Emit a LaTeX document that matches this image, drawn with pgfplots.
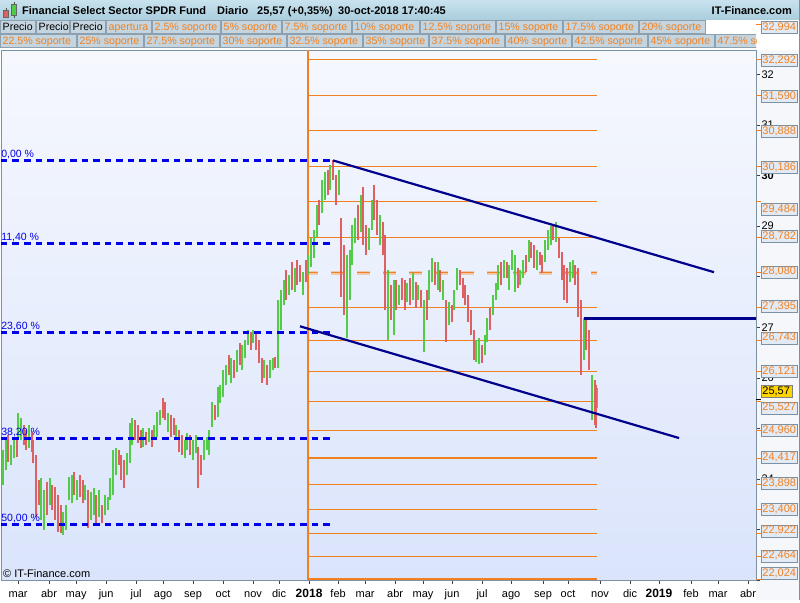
\documentclass[border=0pt]{standalone}
\usepackage{fontspec}
\setmainfont{Liberation Sans}
\usepackage{pgfplots}
\pgfplotsset{compat=1.18}
\usepackage{pgfplotstable}

\definecolor{upgreen}{RGB}{82,204,70}
\definecolor{dnred}{RGB}{222,96,96}
\definecolor{lvlorange}{RGB}{242,128,32}
\definecolor{fibblue}{RGB}{0,0,235}
\definecolor{trendnavy}{RGB}{0,0,140}
\definecolor{frame}{RGB}{125,145,165}
\definecolor{cellfill}{RGB}{196,213,223}
\definecolor{celldraw}{RGB}{140,160,176}
\definecolor{hdrtop}{RGB}{200,226,238}
\definecolor{hdrbot}{RGB}{170,205,221}
\definecolor{plottop}{RGB}{246,248,254}
\definecolor{plotbot}{RGB}{218,228,251}
\definecolor{boxfill}{RGB}{226,235,245}
\definecolor{rightbg}{RGB}{245,247,250}
\definecolor{goldbox}{RGB}{255,212,0}

% daily bars (every second session)
\pgfplotstableread{
d lo hi
-11 23.88 24.57
-9 24.17 24.77
-5 24.27 24.67
-3 24.41 24.77
0 24.83 25.30
2 24.77 25.20
8 24.61 25.06
17 23.19 24.02
19 22.99 23.78
23 23.48 24.02
33 22.89 23.34
35 22.99 23.48
37 23.58 24.04
39 23.52 24.08
43 23.58 23.98
49 23.58 23.88
53 23.19 23.74
55 23.28 23.82
59 23.25 23.78
63 23.28 23.68
65 23.38 23.64
67 23.58 24.02
69 23.68 24.57
71 24.08 24.61
79 24.08 24.51
81 24.31 25.10
83 24.67 25.20
91 24.63 25.00
95 24.73 25.00
99 24.77 25.06
101 24.83 25.32
103 25.06 25.36
109 24.93 25.30
115 24.77 25.06
121 24.41 24.77
123 24.57 24.91
127 24.37 24.77
129 24.51 24.87
135 24.37 24.77
137 24.57 24.83
139 24.47 24.97
141 25.02 25.52
145 25.22 25.82
147 25.50 25.86
149 25.62 26.15
151 25.86 26.25
155 25.89 26.39
159 26.11 26.55
163 26.15 26.65
165 26.39 26.75
167 26.65 26.94
171 26.69 26.94
179 25.99 26.35
183 25.99 26.35
185 26.15 26.39
189 26.19 27.54
191 26.94 27.73
193 27.44 27.93
197 27.63 28.03
201 27.69 28.17
207 27.63 28.09
211 28.03 28.43
213 28.19 28.76
215 28.37 28.92
217 28.78 29.41
221 29.26 29.91
223 29.51 30.07
227 29.71 30.21
233 29.61 30.11
239 26.78 28.43
241 27.54 28.52
243 28.23 29.02
245 28.66 29.16
249 28.88 29.61
255 28.52 28.96
257 28.92 29.51
263 28.62 29.22
269 26.75 28.13
273 26.84 27.93
277 27.44 27.83
283 27.50 27.87
287 27.54 28.07
291 27.54 27.83
295 26.51 27.54
299 27.54 28.13
301 27.89 28.37
305 27.73 28.29
309 27.54 27.93
313 27.04 27.50
317 27.34 27.73
319 27.73 28.17
333 26.31 26.75
335 26.27 26.78
339 26.45 26.84
341 26.71 27.18
345 27.24 27.63
347 27.54 27.87
349 27.73 28.23
353 27.97 28.33
357 27.73 28.23
359 28.13 28.52
361 27.69 28.43
365 27.83 28.13
367 27.97 28.33
371 28.29 28.72
377 28.13 28.52
383 28.29 28.72
385 28.52 28.92
387 28.62 29.00
391 28.68 29.08
401 27.89 28.29
403 27.97 28.33
411 26.35 27.18
417 25.16 26.05
421 25.40 25.80
}\upbars

\pgfplotstableread{
d lo hi
-7 24.33 24.87
-1 24.43 24.77
4 24.67 25.06
6 24.57 24.97
10 24.53 24.93
11 24.31 24.77
13 23.25 24.47
15 23.48 23.98
21 23.28 23.94
25 23.38 23.88
27 23.19 23.84
29 22.95 23.68
31 22.93 23.48
41 23.68 24.13
45 23.64 24.08
47 23.52 23.98
51 23.03 23.78
57 23.13 23.68
61 23.13 23.48
73 24.27 24.57
75 23.98 24.47
77 23.82 24.37
85 24.77 25.16
87 24.71 25.06
89 24.61 24.97
93 24.67 24.93
97 24.63 24.97
105 25.20 25.60
107 25.16 25.52
111 24.83 25.26
113 24.87 25.20
117 24.53 24.97
119 24.47 24.87
125 24.47 24.87
131 23.82 24.63
133 24.08 24.47
143 25.16 25.46
153 26.05 26.45
157 25.99 26.35
161 26.25 26.69
169 26.55 26.90
173 26.55 26.88
175 26.29 26.75
177 25.89 26.39
181 25.86 26.25
187 26.19 26.41
195 27.54 28.13
199 27.73 28.29
203 27.83 28.33
205 27.89 28.23
209 27.89 28.33
219 29.02 29.51
225 29.61 30.11
229 29.91 30.30
231 29.41 30.01
235 27.60 29.16
237 27.24 28.62
247 28.72 29.41
251 28.62 29.77
253 28.43 29.02
259 29.12 29.81
261 28.82 29.51
265 28.43 29.08
267 27.34 28.82
271 27.14 27.83
275 27.34 27.93
279 27.54 27.97
281 27.34 27.93
285 27.44 27.97
289 27.38 27.89
293 27.40 27.73
297 27.14 27.73
303 27.83 28.29
307 27.69 28.13
311 26.71 27.54
315 27.10 27.44
321 27.83 28.13
323 27.58 27.97
325 27.44 27.83
327 27.10 27.63
329 26.84 27.34
331 26.35 26.94
337 26.29 26.65
343 26.94 27.38
351 27.83 28.29
355 27.97 28.29
363 27.77 28.17
369 28.09 28.43
373 28.37 28.68
375 28.17 28.62
379 28.23 28.49
381 28.07 28.43
389 28.72 29.02
393 28.37 28.76
395 27.93 28.49
397 27.54 28.23
399 27.48 28.17
405 27.83 28.23
407 27.20 28.17
409 26.05 27.54
413 26.55 27.14
415 26.15 26.94
419 25.06 25.95
420 25.00 25.86
}\downbars

\newcommand{\cell}[6]{%
  \draw[celldraw, fill=cellfill] (#1,#3) rectangle (#2,#4);
  \node[anchor=base west, inner sep=0pt, text=#5, font=\fontsize{10.6}{13}\selectfont] at ({#1+2.5},{#4-3}) {#6};}

\begin{document}
\begin{tikzpicture}
\begin{scope}[x=1pt,y=-1pt]
  \useasboundingbox (0,0) rectangle (800,600);
  \fill[white] (0,0) rectangle (800,600);
  \fill[rightbg] (756,50) rectangle (800,600);
  \shade[top color=hdrtop, bottom color=hdrbot] (0,0) rectangle (800,19.5);
  % icon
  \draw[black!70, line width=0.6pt] (5.8,8) -- (5.8,18.3) (14.2,1.7) -- (14.2,18.3);
  \filldraw[draw=black!60, fill=dnred, line width=0.5pt] (3.3,10) rectangle (8.3,16.7);
  \filldraw[draw=black!60, fill=upgreen, line width=0.5pt] (11.7,4) rectangle (16.7,15);
  \begin{scope}[every node/.style={anchor=base west, inner sep=0pt, font=\bfseries\fontsize{11}{13}\selectfont}]
    \node at (22,14.5) {Financial Select Sector SPDR Fund};
    \node at (217,14.5) {Diario};
    \node at (257,14.5) {25,57 (+0,35\%)};
    \node at (338,14.5) {30-oct-2018 17:40:45};
    \node[anchor=base east] at (792,14.5) {IT-Finance.com};
  \end{scope}
  % legend cells, row 1
  \cell{0}{35}{20.5}{33.5}{black}{Precio}
  \cell{36}{69}{20.5}{33.5}{black}{Precio}
  \cell{70}{105}{20.5}{33.5}{black}{Precio}
  \cell{106}{151}{20.5}{33.5}{lvlorange}{apertura}
  \cell{152}{220}{20.5}{33.5}{lvlorange}{2.5\% soporte}
  \cell{221}{281}{20.5}{33.5}{lvlorange}{5\% soporte}
  \cell{282}{351}{20.5}{33.5}{lvlorange}{7.5\% soporte}
  \cell{352}{419}{20.5}{33.5}{lvlorange}{10\% soporte}
  \cell{420}{495}{20.5}{33.5}{lvlorange}{12.5\% soporte}
  \cell{496}{562}{20.5}{33.5}{lvlorange}{15\% soporte}
  \cell{563}{638}{20.5}{33.5}{lvlorange}{17.5\% soporte}
  \cell{639}{705}{20.5}{33.5}{lvlorange}{20\% soporte}
  % row 2
  \cell{0}{76}{34.5}{47.5}{lvlorange}{22.5\% soporte}
  \cell{77}{143}{34.5}{47.5}{lvlorange}{25\% soporte}
  \cell{144}{219}{34.5}{47.5}{lvlorange}{27.5\% soporte}
  \cell{220}{286}{34.5}{47.5}{lvlorange}{30\% soporte}
  \cell{287}{362}{34.5}{47.5}{lvlorange}{32.5\% soporte}
  \cell{363}{428}{34.5}{47.5}{lvlorange}{35\% soporte}
  \cell{429}{504}{34.5}{47.5}{lvlorange}{37.5\% soporte}
  \cell{505}{571}{34.5}{47.5}{lvlorange}{40\% soporte}
  \cell{572}{647}{34.5}{47.5}{lvlorange}{42.5\% soporte}
  \cell{648}{714}{34.5}{47.5}{lvlorange}{45\% soporte}
  \begin{scope}
    \clip (714,30) rectangle (756,50);
    \cell{715}{790}{34.5}{47.5}{lvlorange}{47.5\% soporte}
  \end{scope}
\end{scope}

\begin{axis}[
  at={(1pt,-580pt)}, anchor=south west,
  width=755pt, height=530pt, scale only axis,
  xmin=-12.4, xmax=536.3, ymin=21.999, ymax=32.48,
  axis background/.style={top color=plottop, bottom color=plotbot},
  axis line style={draw=frame},
  xtick={0,22.5,42.2,64,85.8,105.4,127.2,149,170.8,189.7,211.5,232.6,252.2,274,294.3,315.4,337.2,358.3,381.5,399.7,423,444.8,465.8,489.1,508.7,530.5},
  xticklabels={mar,abr,may,jun,jul,ago,sep,oct,nov,dic,{\bfseries\fontsize{12}{13}\selectfont 2018},feb,mar,abr,may,jun,jul,ago,sep,oct,nov,dic,{\bfseries\fontsize{12}{13}\selectfont 2019},feb,mar,abr},
  xtick pos=bottom,
  ytick={22,23,...,32},
  yticklabels={,,24,,26,27,,29,\textbf{30},31,32},
  ytick pos=right, yticklabel pos=right,
  tick align=outside, major tick length=4pt,
  tick style={draw=black!75, line width=0.6pt},
  tick label style={font=\fontsize{11}{13}\selectfont, text=black},
  xticklabel style={anchor=base, yshift=-13pt},
  yticklabel style={anchor=west, xshift=-2pt},
]
% support / resistance levels from the 2018 open
\pgfplotsinvokeforeach{32.292,31.590,30.888,30.186,29.484,28.782,27.395,26.743,26.121,25.527,24.960,24.417,23.898,23.400,22.922,22.464,22.024}{
  \addplot[lvlorange, line width=1.2pt] coordinates {(210.8,#1) (421,#1)};
}
\addplot[lvlorange!70, opacity=0.5, line width=4pt, dash pattern=on 13pt off 13pt, dash phase=3pt] coordinates {(210.8,28.080) (421,28.080)};
\addplot[lvlorange, line width=1.5pt, dash pattern=on 13pt off 13pt, dash phase=3pt] coordinates {(210.8,28.080) (421,28.080)};
\addplot[lvlorange, line width=2.6pt] coordinates {(210.8,21.999) (210.8,32.48)};

% price bars
\addplot[draw=none, mark=none, error bars/.cd, y dir=plus, y explicit, error mark=none,
  error bar style={draw=upgreen, line width=2pt}]
  table[x=d, y=lo, y error expr=\thisrow{hi}-\thisrow{lo}] {\upbars};
\addplot[draw=none, mark=none, error bars/.cd, y dir=plus, y explicit, error mark=none,
  error bar style={draw=dnred, line width=2pt}]
  table[x=d, y=lo, y error expr=\thisrow{hi}-\thisrow{lo}] {\downbars};

% fibonacci retracements
\pgfplotsinvokeforeach{30.30,28.658,26.902,24.799,23.10}{
  \addplot[fibblue, line width=2.6pt, dash pattern=on 6.5pt off 5pt] coordinates {(-12.4,#1) (229,#1)};
}
\begin{scope}[every node/.style={anchor=base west, inner sep=0pt, text=fibblue, font=\fontsize{10.5}{11}\selectfont, yshift=3pt}]
  \node at (axis cs:-12.3,30.30) {0,00 \%};
  \node at (axis cs:-12.3,28.658) {11,40 \%};
  \node at (axis cs:-12.3,26.902) {23,60 \%};
  \node at (axis cs:-12.3,24.799) {38,20 \%};
  \node at (axis cs:-12.3,23.10) {50,00 \%};
\end{scope}

% channel
\addplot[trendnavy, line width=2.2pt] coordinates {(228.9,30.30) (505.8,28.09)};
\addplot[trendnavy, line width=2.2pt] coordinates {(204.9,27.02) (480.4,24.81)};
\addplot[trendnavy, line width=2.6pt] coordinates {(411.3,27.18) (536.3,27.18)};
\end{axis}

\begin{scope}[x=1pt,y=-1pt]
  \foreach \ly/\by/\tx in {24.0/27.5/{32,994},59.5/60.5/{32,292},95.0/96/{31,590},130.5/131.5/{30,888},166/167/{30,186},201.5/209/{29,484},237/236/{28,782},272.5/271.5/{28,080},307.1/306/{27,395},340.1/337.5/{26,743},371.6/371/{26,121},401.6/407.5/{25,527},430.3/430/{24,960},457.7/457/{24,417},484/483/{23,898},509.2/509/{23,400},533.3/530.5/{22,922},556.5/555.5/{22,464},578.8/573/{22,024}}{
    \draw[lvlorange, line width=0.8pt] (756,\ly) -- (761,\ly);
    \node[draw=frame, fill=boxfill, text=lvlorange, font=\fontsize{11}{12}\selectfont, inner sep=0pt, minimum width=36pt, minimum height=12pt, anchor=west] at (761,\by) {\tx};
  }
  \draw[black, line width=0.8pt] (756,399.4) -- (761,399.4);
  \node[draw=black!50, fill=goldbox, text=black, font=\fontsize{11}{12}\selectfont, inner sep=0pt, minimum width=31pt, minimum height=12pt, anchor=west] at (760.5,391) {25,57};
  \node[anchor=base west, inner sep=0pt, font=\fontsize{11}{13}\selectfont] at (3,577) {© IT-Finance.com};
  \draw[frame] (799.5,0) -- (799.5,600);
\end{scope}
\end{tikzpicture}
\end{document}
